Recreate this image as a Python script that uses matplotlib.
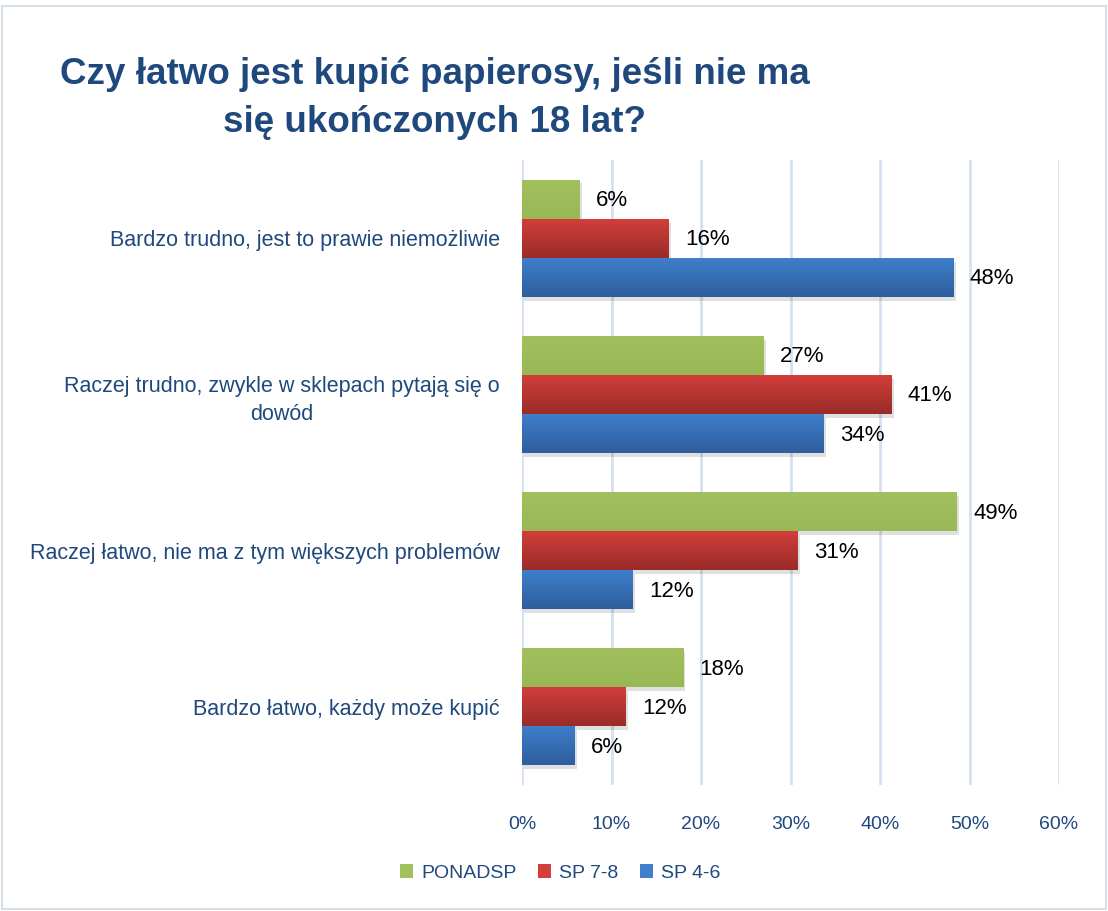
import numpy as np
import matplotlib.pyplot as plt
from matplotlib.colors import LinearSegmentedColormap
from matplotlib.patches import Rectangle

categories = [
    "Bardzo trudno, jest to prawie niemożliwie",
    "Raczej trudno, zwykle w sklepach pytają się o\ndowód",
    "Raczej łatwo, nie ma z tym większych problemów",
    "Bardzo łatwo, każdy może kupić",
]
series_names = ["PONADSP", "SP 7-8", "SP 4-6"]
ponadsp = [6.4, 27.0, 48.6, 18.0]
sp78 = [16.4, 41.3, 30.8, 11.6]
sp46 = [48.2, 33.7, 12.4, 5.9]
ponadsp_labels = ["6%", "27%", "49%", "18%"]
sp78_labels = ["16%", "41%", "31%", "12%"]
sp46_labels = ["48%", "34%", "12%", "6%"]
xticks = [0, 10, 20, 30, 40, 50, 60]

text_blue = "#1F497D"
# (top colour, bottom colour) for the bar gradients
bar_colors = [("#A2C05E", "#98B755"), ("#D33F3B", "#9A2B29"), ("#3F7FCC", "#2E5E9C")]

plt.rcParams['font.family'] = ['Liberation Sans', 'DejaVu Sans']

fig = plt.figure(figsize=(11.08, 9.11), dpi=100)
fig.patches.append(Rectangle((0.002, 0.002), 0.996, 0.991, transform=fig.transFigure,
                             fill=False, edgecolor="#D6DEE8", linewidth=1.5))

ax = fig.add_axes([522 / 1108, 1 - 785 / 911, 537 / 1108, 625 / 911])

y = np.arange(len(categories))
h = 0.25
all_vals = [ponadsp, sp78, sp46]
all_labels = [ponadsp_labels, sp78_labels, sp46_labels]
offsets = [-h, 0, h]

grad = np.linspace(0, 1, 64).reshape(-1, 1)
for vals, labels, off, (c_top, c_bot), name in zip(all_vals, all_labels, offsets, bar_colors, series_names):
    bars = ax.barh(y + off, vals, height=h, color=c_top, label=name, zorder=3)
    cmap = LinearSegmentedColormap.from_list("g", [c_top, c_bot])
    for bar, lab in zip(bars, labels):
        x0, y0 = bar.get_x(), bar.get_y()
        w, hh = bar.get_width(), bar.get_height()
        # soft shadow under each bar
        ax.add_patch(Rectangle((x0 + 0.25, y0 + 0.025), w, hh, color="#000000",
                               alpha=0.12, zorder=2, linewidth=0))
        im = ax.imshow(grad, cmap=cmap, aspect="auto", extent=(x0, x0 + w, y0 + hh, y0),
                       zorder=3.5)
        im.set_clip_path(bar)
        ax.text(x0 + w + 1.8, y0 + hh / 2 + 0.01, lab, va="center", ha="left",
                fontsize=16, color="black", zorder=5)

ax.set_xlim(0, 60)
ax.set_ylim(3.5, -0.5)
ax.set_xticks(xticks)
ax.set_xticklabels([f"{t}%" for t in xticks], color=text_blue, fontsize=14)
ax.set_yticks(y)
ax.set_yticklabels(categories, color=text_blue, fontsize=15.5, multialignment="center",
                   linespacing=1.45)
ax.tick_params(axis="both", length=0)
ax.tick_params(axis="x", pad=22)
ax.tick_params(axis="y", pad=16)
ax.grid(axis="x", color="#D5E1F0", linewidth=2, zorder=0)
ax.set_axisbelow(True)
for s in ax.spines.values():
    s.set_visible(False)

fig.text(435 / 1108, 1 - 75 / 911, "Czy łatwo jest kupić papierosy, jeśli nie ma",
         ha="center", va="center", fontsize=26.5, fontweight="bold", color=text_blue)
fig.text(435 / 1108, 1 - 123 / 911, "się ukończonych 18 lat?",
         ha="center", va="center", fontsize=26.5, fontweight="bold", color=text_blue)

handles, labels = ax.get_legend_handles_labels()
leg = fig.legend(handles, labels, loc="center", bbox_to_anchor=(560 / 1108, 1 - 873 / 911),
                 ncol=3, frameon=False, fontsize=14, handlelength=0.7, handleheight=0.7,
                 handletextpad=0.4, columnspacing=1.1)
for t in leg.get_texts():
    t.set_color(text_blue)

fig.savefig("out.png", dpi=100)
